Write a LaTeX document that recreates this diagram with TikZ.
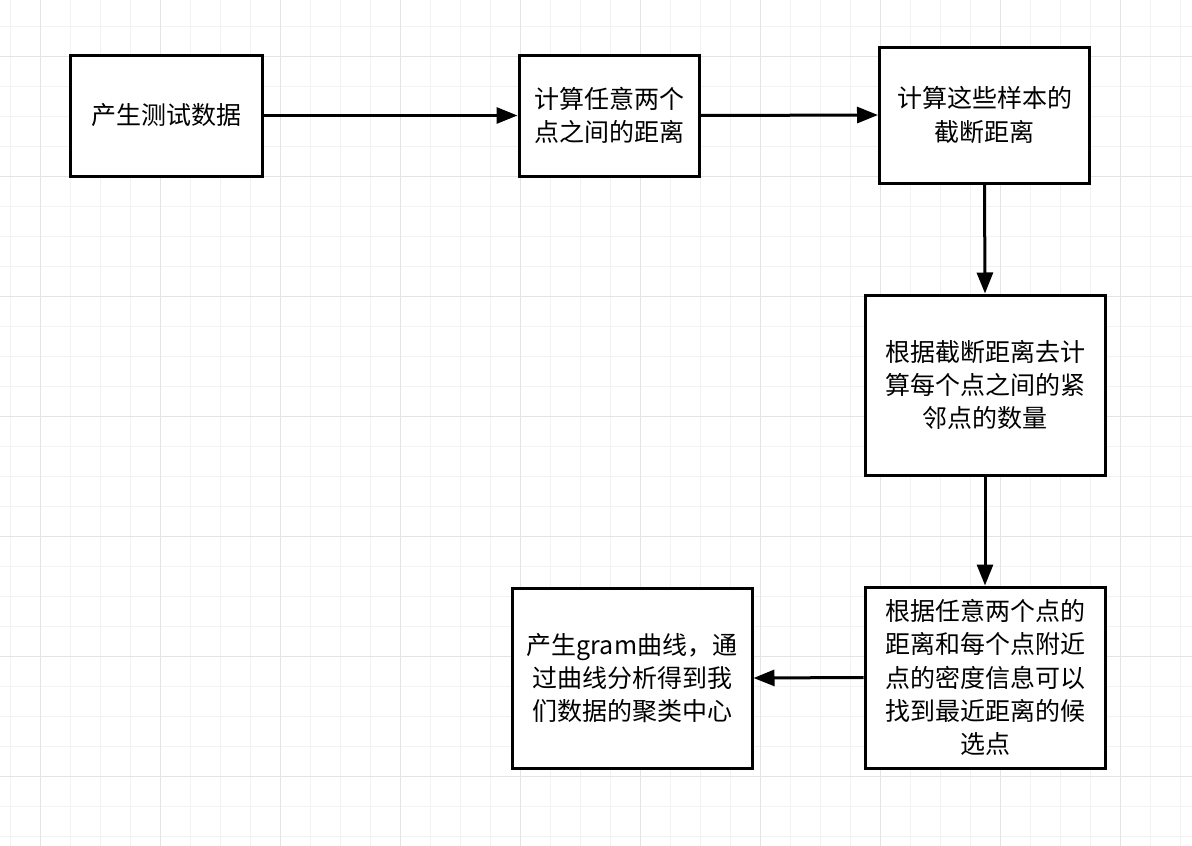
\documentclass[tikz,border=0pt]{standalone}
\usepackage{fontspec}
\setmainfont{Noto Sans CJK SC}
\usetikzlibrary{arrows.meta}
\definecolor{gridminor}{HTML}{F2F2F2}
\definecolor{gridmajor}{HTML}{E4E4E4}
\tikzset{
  box/.style={draw=black, line width=3pt, fill=white, inner sep=0pt, align=center,
    font=\fontsize{25}{33.3}\selectfont},
  conn/.style={line width=3pt, -{Triangle[length=21pt,width=16pt]}},
}
\begin{document}
\begin{tikzpicture}[x=1pt,y=-1pt]
\useasboundingbox (0,0) rectangle (1192,846);
\fill[white] (0,0) rectangle (1192,846);
% minor grid
\foreach \x in {10,40,...,1190} \draw[gridminor, line width=1pt] (\x,0) -- (\x,846);
\foreach \y in {26,56,...,846} \draw[gridminor, line width=1pt] (0,\y) -- (1192,\y);
% major grid
\foreach \x in {40,160,...,1190} \draw[gridmajor, line width=1pt] (\x,0) -- (\x,846);
\foreach \y in {56,176,...,846} \draw[gridmajor, line width=1pt] (0,\y) -- (1192,\y);

\node[box, minimum width=192pt, minimum height=121pt] (n1) at (166,115.5) {产生测试数据};
\node[box, minimum width=180pt, minimum height=121pt] (n2) at (609,115.5) {计算任意两个\\点之间的距离};
\node[box, minimum width=210pt, minimum height=136pt] (n3) at (984.5,115) {计算这些样本的\\截断距离};
\node[box, minimum width=240pt, minimum height=180pt] (n4) at (985,385) {根据截断距离去计\\算每个点之间的紧\\邻点的数量};
\node[box, minimum width=240pt, minimum height=181pt] (n5) at (985,677.5) {根据任意两个点的\\距离和每个点附近\\点的密度信息可以\\找到最近距离的候\\选点};
\node[box, minimum width=240pt, minimum height=180pt] (n6) at (632,678) {产生gram曲线，通\\过曲线分析得到我\\们数据的聚类中心};

\draw[conn] (n1.east) -- (n2.west);
\draw[conn] (n2.east) -- (n3.west);
\draw[conn] (n3.south) -- (n4.north);
\draw[conn] (n4.south) -- (n5.north);
\draw[conn] (n5.west) -- (n6.east);
\end{tikzpicture}
\end{document}
